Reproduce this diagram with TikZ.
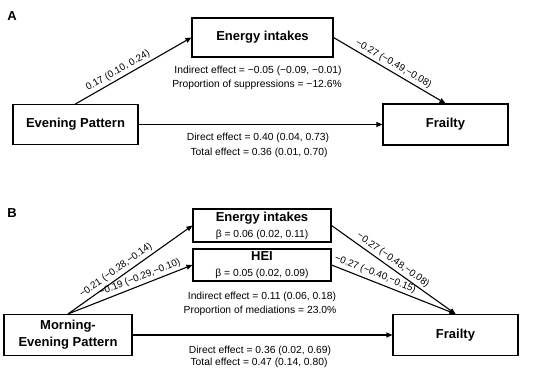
\documentclass[tikz,border=0pt]{standalone}
\usepackage{fontspec}
\setmainfont{Liberation Sans}
\usetikzlibrary{arrows.meta}

\tikzset{
  varbox/.style={draw, line width=1.1pt, inner sep=0pt, align=center,
    font=\fontsize{13}{17}\selectfont\bfseries},
  medbox/.style={draw, line width=1.1pt, inner sep=0pt, align=center,
    font=\fontsize{10.3}{16}\selectfont},
  effarrow/.style={-{Triangle[length=6pt,width=5pt]}, line width=1.1pt},
  coeflabel/.style={font=\fontsize{9.8}{11}\selectfont, sloped, above, inner sep=2.5pt},
  efftext/.style={font=\fontsize{10.3}{12}\selectfont, inner sep=0pt},
  panellabel/.style={font=\fontsize{13}{15}\selectfont\bfseries, inner sep=0pt},
}

\begin{document}
\begin{tikzpicture}[x=1pt, y=-1pt]
    \useasboundingbox (0,0) rectangle (550,375);
    % Panel A
    \node[panellabel] (labA) at (12,16) {A};
    \node[varbox, minimum width=141pt, minimum height=39pt] (energyA) at (262.5,37.5) {Energy intakes};
    \node[varbox, minimum width=125pt, minimum height=40pt] (eveningA) at (75.5,124.5) {Evening Pattern};
    \node[varbox, minimum width=125pt, minimum height=41pt] (frailtyA) at (445.5,124.5) {Frailty};
    \draw[effarrow] (eveningA.north) -- (energyA.west)
        node[coeflabel, pos=0.4] {0.17 (0.10, 0.24)};
    \draw[effarrow] (energyA.east) -- (frailtyA.north)
        node[coeflabel, pos=0.5] {−0.27 (−0.49,−0.08)};
    \draw[effarrow] (eveningA.east) -- (frailtyA.west);
    \node[efftext] (indA) at (258,71) {Indirect effect = −0.05 (−0.09, −0.01)};
    \node[efftext] (propA) at (257,85) {Proportion of suppressions = −12.6\%};
    \node[efftext] (dirA) at (258,138) {Direct effect = 0.40 (0.04, 0.73)};
    \node[efftext] (totA) at (259,153) {Total effect = 0.36 (0.01, 0.70)};

    % Panel B
    \node[panellabel] (labB) at (12,213) {B};
    \node[medbox, minimum width=138pt, minimum height=33pt] (energyB) at (262,225.5)
        {{\fontsize{13}{16}\selectfont\bfseries Energy intakes}\\β = 0.06 (0.02, 0.11)};
    \node[medbox, minimum width=138pt, minimum height=32pt] (heiB) at (262,265)
        {{\fontsize{13}{16}\selectfont\bfseries HEI}\\β = 0.05 (0.02, 0.09)};
    \node[varbox, minimum width=128pt, minimum height=41pt] (morningB) at (68,335) {Morning-\\Evening Pattern};
    \node[varbox, minimum width=125pt, minimum height=41pt] (frailtyB) at (455.5,335) {Frailty};
    \draw[effarrow] (morningB.north) -- (energyB.west)
        node[coeflabel, pos=0.42] {−0.21 (−0.28,−0.14)};
    \draw[effarrow] (morningB.north) -- (heiB.west)
        node[coeflabel, pos=0.6] {−0.19 (−0.29,−0.10)};
    \draw[effarrow] (energyB.east) -- (frailtyB.north)
        node[coeflabel, pos=0.46] {−0.27 (−0.48,−0.08)};
    \draw[effarrow] (heiB.east) -- (frailtyB.north)
        node[coeflabel, pos=0.33] {−0.27 (−0.40,−0.15)};
    \draw[effarrow] (morningB.east) -- (frailtyB.west);
    \node[efftext] (indB) at (262,297) {Indirect effect = 0.11 (0.06, 0.18)};
    \node[efftext] (propB) at (260,311) {Proportion of mediations = 23.0\%};
    \node[efftext] (dirB) at (260,351) {Direct effect = 0.36 (0.02, 0.69)};
    \node[efftext] (totB) at (259,363) {Total effect = 0.47 (0.14, 0.80)};
\end{tikzpicture}
\end{document}
